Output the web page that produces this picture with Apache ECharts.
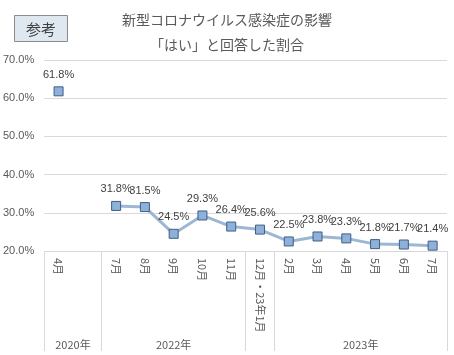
<!DOCTYPE html>
<html><head><meta charset="utf-8">
<script src="https://cdn.jsdelivr.net/npm/echarts@6/dist/echarts.min.js"></script>
<style>html,body{margin:0;padding:0;background:#fff}#c{width:454px;height:355px}</style>
</head><body><div id="c"></div>
<script>
const months = ['4月', '', '7月', '8月', '9月', '10月', '11月', '12月・23年1月', '2月', '3月', '4月', '5月', '6月', '7月'];
const values = [61.8, null, 31.8, 31.5, 24.5, 29.3, 26.4, 25.6, 22.5, 23.8, 23.3, 21.8, 21.7, 21.4];
const yearLabels = ['2020年', '2022年', '2023年'];
// year group: first and last category index (inclusive)
const yearGroups = [[0, 1], [2, 6], [8, 13]];
const groupBoundaries = [0, 2, 7, 8, 14];
const yTicks = [20, 30, 40, 50, 60, 70];

// secondary axis: 2*N+1 points, point j at boundary (even) or centre (odd)
const N = months.length;
const subCats = [];
for (let j = 0; j <= 2 * N; j++) subCats.push('');
yearGroups.forEach((g, k) => { subCats[g[0] + g[1] + 1] = yearLabels[k]; });
const tickSet = new Set(groupBoundaries.map(b => 2 * b));

const FONT = '"Noto Sans CJK JP", "Noto Sans", sans-serif';
const chart = echarts.init(document.getElementById('c'));
chart.setOption({
  animation: false,
  textStyle: { fontFamily: FONT },
  title: [
    { text: '新型コロナウイルス感染症の影響\n「はい」と回答した割合', left: 'center', top: 7, padding: 0,
      textStyle: { fontSize: 14, fontWeight: 'normal', color: '#595959', lineHeight: 25, fontFamily: FONT } },
    { text: '参考', left: 14, top: 15, padding: [5, 12, 4, 12], backgroundColor: '#dfe7f0', borderColor: '#8c8c8c', borderWidth: 1,
      textStyle: { fontSize: 15, fontWeight: 'normal', color: '#404040', lineHeight: 18, fontFamily: FONT } }
  ],
  grid: { left: 43, right: 7, top: 60, bottom: 104 },
  xAxis: [
    { type: 'category', data: months, boundaryGap: true,
      axisLine: { lineStyle: { color: '#d9d9d9' } }, axisTick: { show: false },
      axisLabel: { interval: 0, rotate: -90, margin: 7, fontSize: 11, color: '#595959', fontFamily: FONT } },
    { type: 'category', data: subCats, boundaryGap: false, position: 'bottom',
      axisLine: { show: false },
      axisTick: { show: true, length: 100, interval: (j) => tickSet.has(j), lineStyle: { color: '#d9d9d9' } },
      axisLabel: { interval: 0, margin: 88, fontSize: 11, color: '#595959', fontFamily: FONT } }
  ],
  yAxis: { type: 'value', min: yTicks[0], max: yTicks[yTicks.length - 1], interval: 10,
    axisLine: { show: false }, axisTick: { show: false },
    splitLine: { lineStyle: { color: '#d9d9d9' } },
    axisLabel: { margin: 10, fontSize: 11, color: '#595959', fontFamily: '"Liberation Sans", sans-serif', formatter: v => v.toFixed(1) + '%' } },
  series: [{
    type: 'line', data: values, connectNulls: false,
    symbol: 'rect', symbolSize: 9,
    lineStyle: { color: '#9db7d3', width: 3 },
    itemStyle: { color: '#8fb0d8', borderColor: '#3d5f87', borderWidth: 1 },
    label: { show: true, position: 'top', distance: 6, fontSize: 11, color: '#404040',
      fontFamily: '"Liberation Sans", sans-serif', formatter: p => p.value.toFixed(1) + '%' }
  }]
});
</script></body></html>
